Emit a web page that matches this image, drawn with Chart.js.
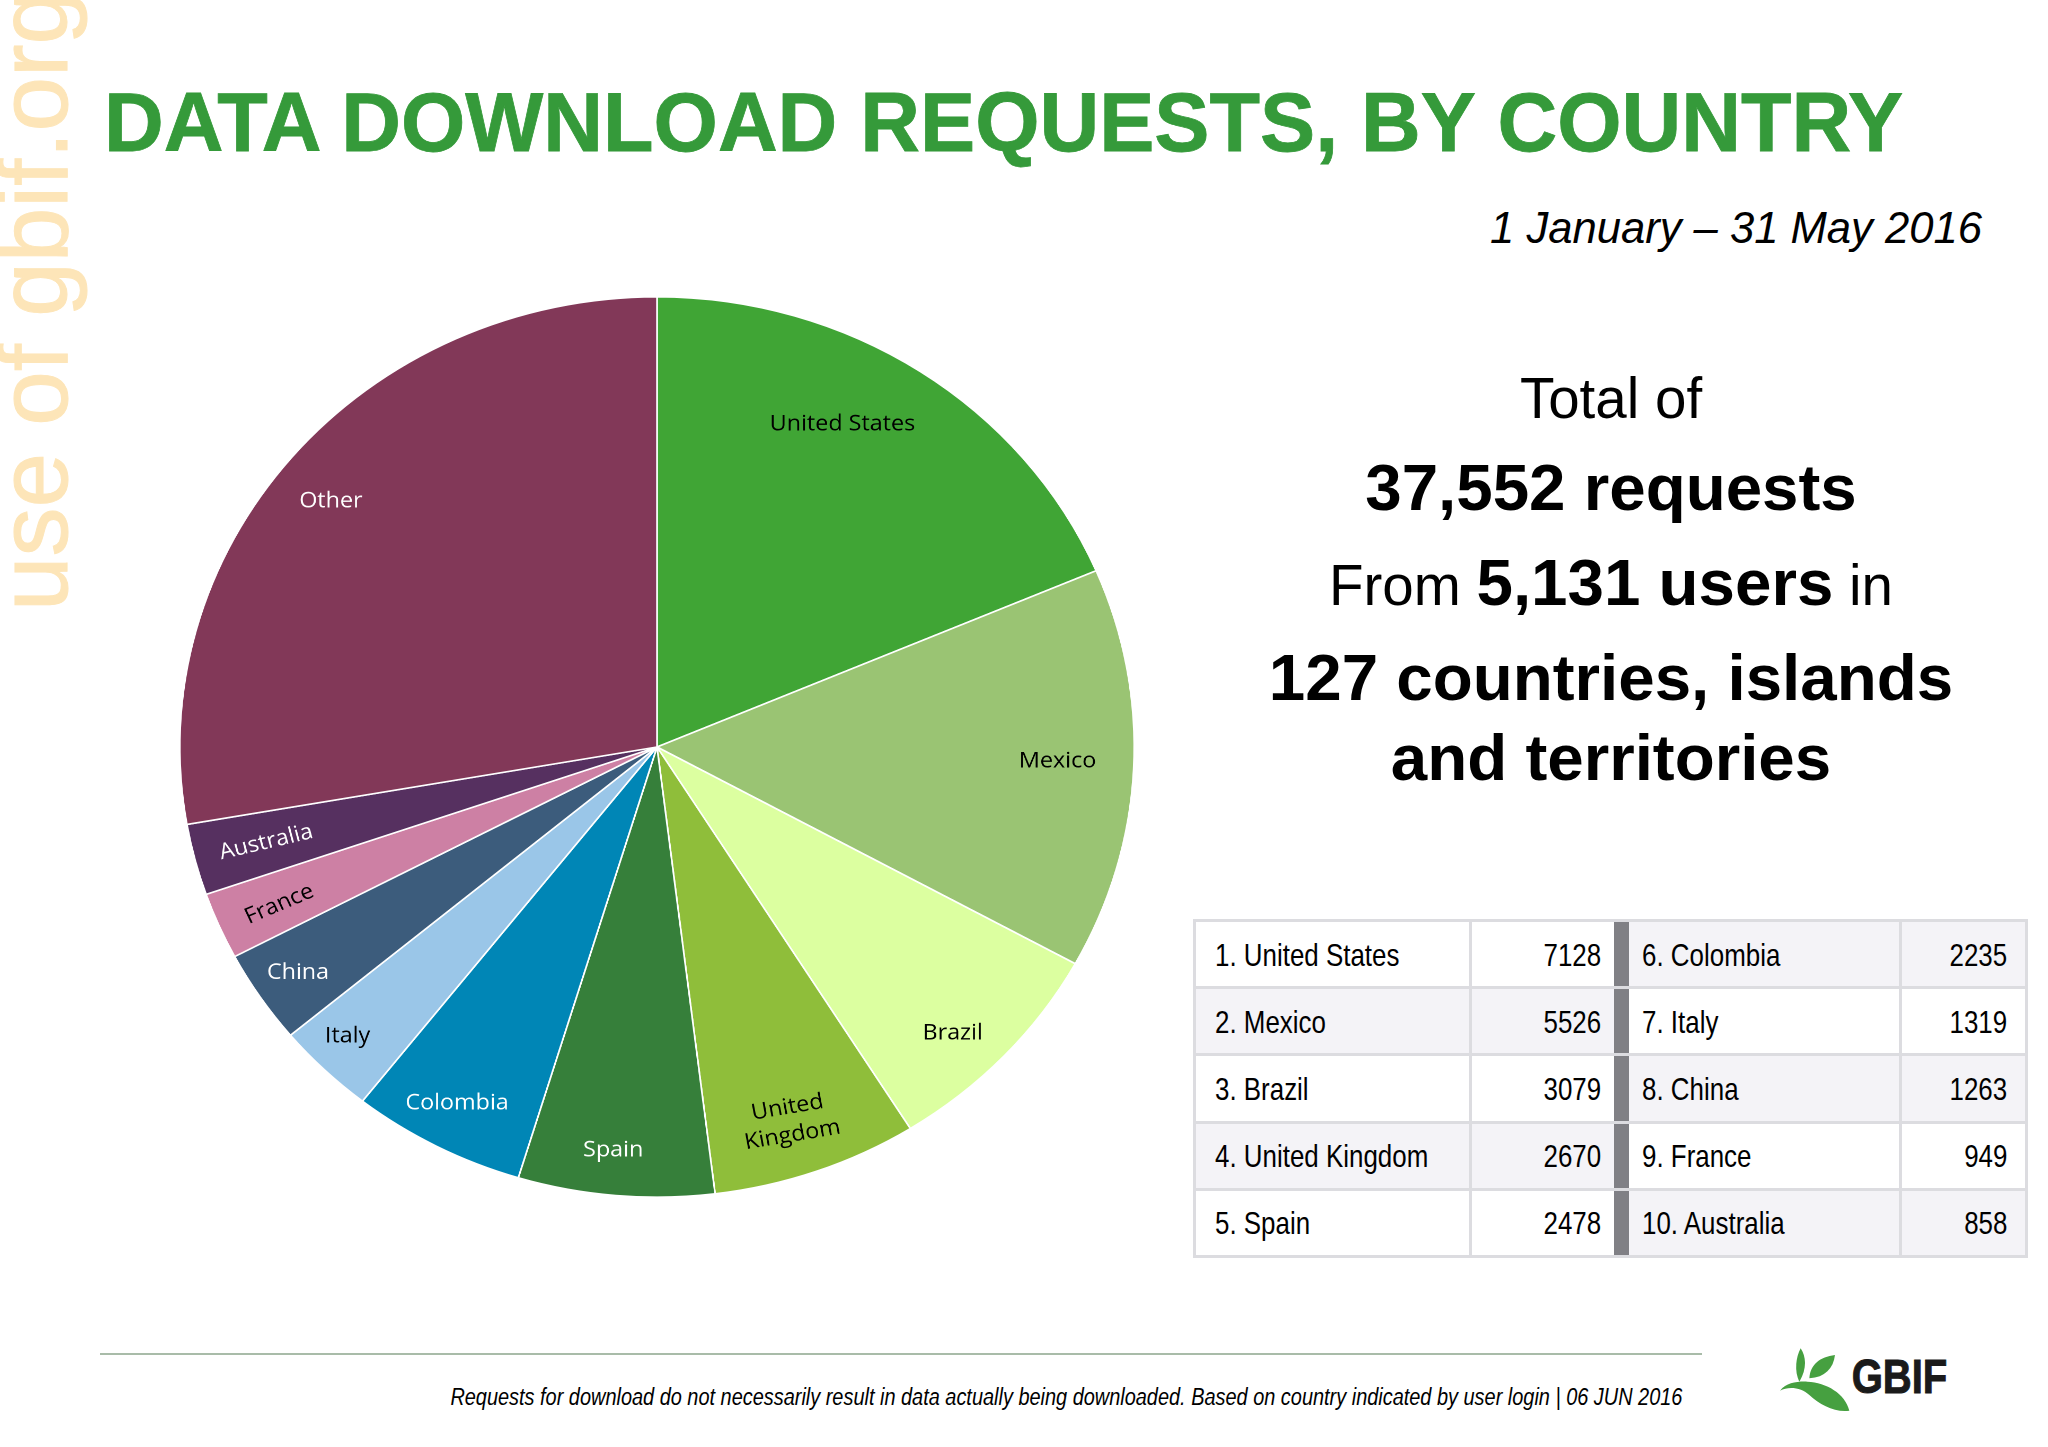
<!DOCTYPE html>
<html>
<head>
<meta charset="utf-8">
<title>Data download requests, by country</title>
<script src="https://cdn.jsdelivr.net/npm/chart.js@4"></script>
<style>
  html, body { margin: 0; padding: 0; background: #fff; }
  body { position: relative; width: 2048px; height: 1447px; overflow: hidden; font-family: "Liberation Sans", Arial, sans-serif; color: #000; }
  .t { position: absolute; white-space: nowrap; line-height: 1; }
  .c { transform: translateX(-50%); text-align: center; }
  #watermark { left: 70px; top: 611px; font-size: 98px; color: #fde5b8; transform-origin: 0 0; transform: rotate(-90deg) translateY(-86px); -webkit-text-stroke: 1px #fde5b8; }
  #title { left: 104px; top: 82px; font-size: 82.7px; font-weight: bold; color: #359a3a; -webkit-text-stroke: 0.8px #359a3a; }
  #period { right: 66px; top: 207px; font-size: 43.6px; font-style: italic; }
  .big { font-size: 56.5px; }
  b { font-size: 65.5px; }
  #pieCanvas { position: absolute; left: 197px; top: 287px; transform: scaleX(1.06); transform-origin: center; }
  #rankTable { position: absolute; left: 1193px; top: 919px; border-collapse: collapse; table-layout: fixed; font-size: 32px; }
  #rankTable td { padding: 2px 0 0 0; border: 3px solid #dcdce0; box-sizing: border-box; white-space: nowrap; }
  #rankTable td span { display: inline-block; transform: scaleX(0.81); }
  #rankTable td.name span { transform-origin: left center; }
  #rankTable td.num { text-align: right; }
  #rankTable td.num span { transform-origin: right center; }
  #rankTable td.gap { background: #808085; border-left: hidden; border-right: hidden; }
  #rankTable td.shade { background: #f4f3f7; }
  #rule { position: absolute; left: 100px; top: 1353px; width: 1602px; height: 2px; background: #a9bca9; }
  #note { right: 366px; top: 1385px; font-style: italic; font-size: 24.5px; transform: scaleX(0.813); transform-origin: right center; }
  #logo { position: absolute; left: 1770px; top: 1340px; }
</style>
</head>
<body>
<div id="watermark" class="t">use of gbif.org</div>
<div id="title" class="t">DATA DOWNLOAD REQUESTS, BY COUNTRY</div>
<div id="period" class="t">1 January – 31 May 2016</div>

<canvas id="pieCanvas" width="920" height="920"></canvas>

<div class="t c big" style="left:1611px; top:371px;">Total of</div>
<div class="t c" style="left:1611px; top:455px;"><b>37,552 requests</b></div>
<div class="t c big" style="left:1611px; top:550px;">From <b>5,131 users</b> in</div>
<div class="t c" style="left:1611px; top:645px;"><b>127 countries, islands</b></div>
<div class="t c" style="left:1611px; top:725px;"><b>and territories</b></div>

<table id="rankTable"></table>

<div id="rule"></div>
<div id="note" class="t">Requests for download do not necessarily result in data actually being downloaded. Based on country indicated by user login | 06 JUN 2016</div>

<svg id="logo" width="190" height="80" viewBox="0 0 570 240">
  <path d="M92 25 C108 50 112 85 88 125 C72 95 78 50 92 25 Z" fill="#46a040"/>
  <path d="M118 115 C120 75 150 50 195 45 C190 85 165 112 118 115 Z" fill="#46a040"/>
  <path d="M30 152 C50 128 80 124 112 125 C170 128 225 160 238 212 C195 218 150 195 118 165 C95 142 55 138 30 152 Z" fill="#46a040"/>
  <text x="245" y="158" font-family="Liberation Sans" font-weight="bold" font-size="146" textLength="287" lengthAdjust="spacingAndGlyphs" fill="#1a1a1a" stroke="#1a1a1a" stroke-width="3">GBIF</text>
</svg>

<script>
const categories = ["United States", "Mexico", "Brazil", "United Kingdom", "Spain", "Colombia", "Italy", "China", "France", "Australia", "Other"];
// numbers printed in the ranking table
const requestCounts = [7128, 5526, 3079, 2670, 2478, 2235, 1319, 1263, 949, 858];
// pie slices, the drawn pie is not quite proportional to the table
const sliceValues = [7130, 5520, 3105, 2670, 2545, 2260, 1285, 1285, 920, 980, 10640];
const sliceColors = ["#40a535", "#9ac473", "#dcffa0", "#8fbe3a", "#367f3a", "#0086b6", "#9ac6e8", "#3c5c7c", "#cd80a4", "#563060", "#823858"];
const labelColors = ["#000", "#000", "#000", "#000", "#fff", "#fff", "#000", "#fff", "#000", "#fff", "#fff"];

// label placement: shift from the slice middle (degrees), share of radius, text rotation (degrees)
const labelNudge = [-5, -0.7, 2.4, 1, 0.9, 0.4, 1.1, 0.1, -0.4, 0, -1.4];
const labelRadius = [0.815, 0.84, 0.888, 0.877, 0.9, 0.895, 0.913, 0.904, 0.865, 0.846, 0.875];
const labelTilt = [0, 0, 0, -10, 0, 0, 0, 0, -24, -14, 0];

const sliceLabels = {
    id: 'sliceLabels',
    afterDatasetsDraw(chart) {
        const ctx = chart.ctx;
        chart.getDatasetMeta(0).data.forEach((arc, i) => {
            const angle = (arc.startAngle + arc.endAngle) / 2 + labelNudge[i] * Math.PI / 180;
            const r = arc.outerRadius * labelRadius[i];
            ctx.save();
            ctx.translate(arc.x + Math.cos(angle) * r, arc.y + Math.sin(angle) * r);
            ctx.rotate(labelTilt[i] * Math.PI / 180);
            ctx.font = '22px "Open Sans"';
            ctx.fillStyle = labelColors[i];
            ctx.textAlign = 'center';
            ctx.textBaseline = 'middle';
            if (categories[i] === "United Kingdom") {
                ctx.fillText("United", 0, -14);
                ctx.fillText("Kingdom", 0, 14);
            } else {
                ctx.fillText(categories[i], 0, 0);
            }
            ctx.restore();
        });
    }
};

new Chart(document.getElementById('pieCanvas'), {
    type: 'pie',
    data: {
        labels: categories,
        datasets: [{
            data: sliceValues,
            backgroundColor: sliceColors,
            borderColor: '#fff',
            borderWidth: 1.6
        }]
    },
    options: {
        responsive: false,
        animation: false,
        devicePixelRatio: 2,
        layout: { padding: 9 },
        plugins: { legend: { display: false }, tooltip: { enabled: false } }
    },
    plugins: [sliceLabels]
});

// ranking table: top ten in two columns, Other is left out
const colWidths = [276, 143, 15, 272, 126];
const table = document.getElementById('rankTable');
const colgroup = document.createElement('colgroup');
colWidths.forEach(w => {
    const col = document.createElement('col');
    col.style.width = w + 'px';
    colgroup.appendChild(col);
});
table.appendChild(colgroup);
table.style.width = colWidths.reduce((a, b) => a + b, 0) + 'px';

function addCells(row, index, shaded, padLeft, padRight) {
    const name = row.insertCell();
    name.className = 'name';
    name.style.paddingLeft = padLeft + 'px';
    name.innerHTML = '<span>' + (index + 1) + '. ' + categories[index] + '</span>';
    const value = row.insertCell();
    value.className = 'num';
    value.style.paddingRight = padRight + 'px';
    value.innerHTML = '<span>' + requestCounts[index] + '</span>';
    if (shaded) {
        name.classList.add('shade');
        value.classList.add('shade');
    }
}

for (let i = 0; i < 5; i++) {
    const row = table.insertRow();
    row.style.height = '67.2px';
    addCells(row, i, i % 2 === 1, 19, 12);
    row.insertCell().className = 'gap';
    addCells(row, i + 5, i % 2 === 0, 13, 18);
}
</script>
</body>
</html>
